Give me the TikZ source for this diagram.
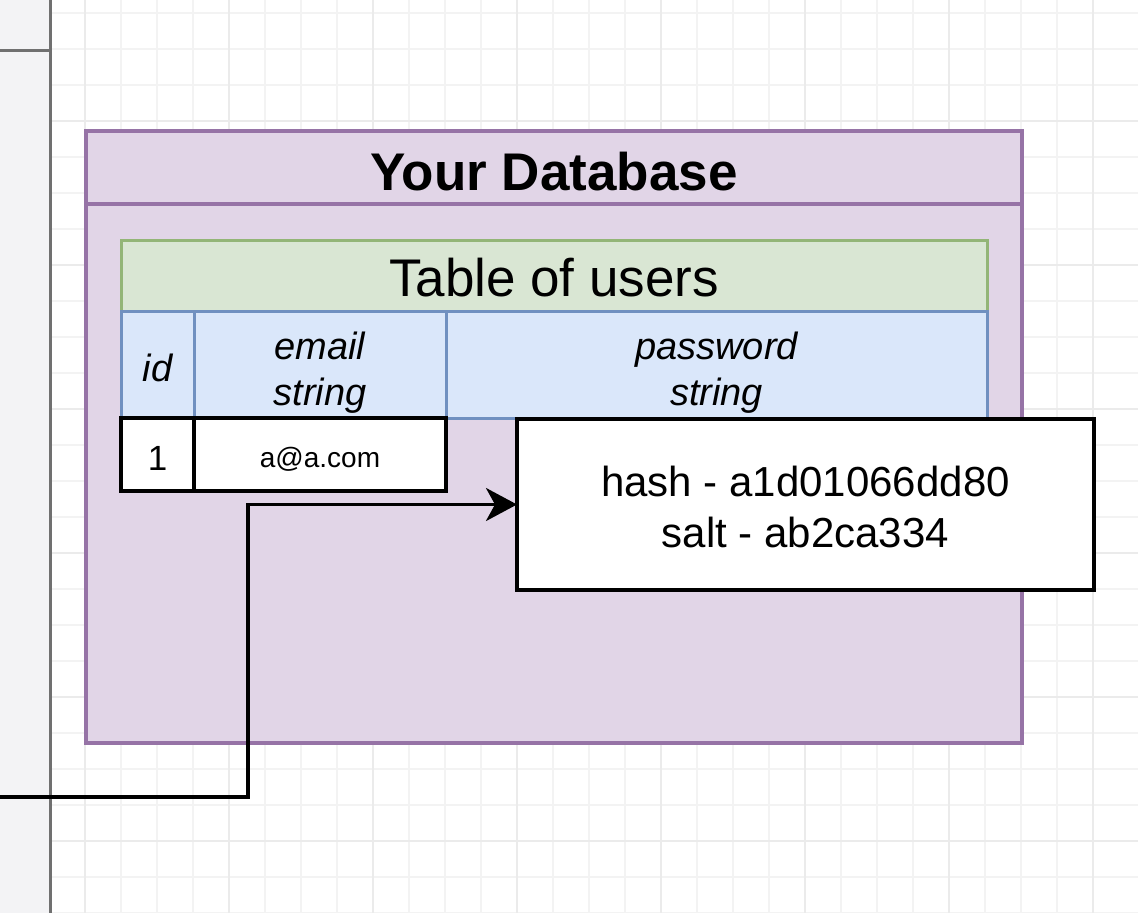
\documentclass[tikz,border=0pt]{standalone}
\usepackage{fontspec}
\setmainfont{Liberation Sans}
\usetikzlibrary{arrows.meta}
\definecolor{purfill}{HTML}{E1D5E7}
\definecolor{purline}{HTML}{9673A6}
\definecolor{grnfill}{HTML}{D9E6D3}
\definecolor{grnline}{HTML}{93B577}
\definecolor{blufill}{HTML}{DAE7FA}
\definecolor{bluline}{HTML}{7090C0}
\definecolor{gridminor}{HTML}{F3F3F3}
\definecolor{gridmajor}{HTML}{EBEBEB}
\definecolor{panelfill}{HTML}{F3F3F5}
\definecolor{panelline}{HTML}{707070}
\tikzset{
  cell/.style={rectangle, inner sep=0pt, outer sep=0pt, align=center},
  purbox/.style={cell, draw=purline, fill=purfill, line width=3.5pt},
  grnbox/.style={cell, draw=grnline, fill=grnfill, line width=3pt},
  blubox/.style={cell, draw=bluline, fill=blufill, line width=3pt},
  blkbox/.style={cell, draw=black, fill=white, line width=3.5pt},
  lbl/.style={inner sep=0pt, align=center},
  conn/.style={line width=3.5pt, -{Stealth[length=31pt,width=33pt,inset=9pt]}},
}
\begin{document}
\begin{tikzpicture}[x=1pt,y=-1pt]
\useasboundingbox (0,0) rectangle (1138,913);
% grid
\foreach \gx in {58,94,...,1138} \draw[gridminor,line width=1.2pt] (\gx-45,0) -- (\gx-45,913);
\foreach \gy in {13,49,...,913} \draw[gridminor,line width=1.2pt] (50,\gy) -- (1138,\gy);
\foreach \gx in {85,229,...,1138} \draw[gridmajor,line width=1.4pt] (\gx,0) -- (\gx,913);
\foreach \gy in {121,265,...,913} \draw[gridmajor,line width=1.4pt] (50,\gy) -- (1138,\gy);
% left panel
\fill[panelfill] (0,0) rectangle (50,913);
\draw[panelline,line width=3pt] (50,0) -- (50,913);
\draw[panelline,line width=3pt] (0,50) -- (50,50);
% database container
\node[purbox, minimum width=936pt, minimum height=539pt] (body) at (554,473.5) {};
\node[purbox, minimum width=936pt, minimum height=73pt] (title) at (554,167.5) {};
\node[lbl, font=\bfseries\fontsize{53}{60}\selectfont] (titletext) at ([yshift=-4pt]title.center) {Your Database};
% table
\node[grnbox, minimum width=866pt, minimum height=71pt] (tbl) at (554,275.5) {};
\node[lbl, font=\fontsize{53}{60}\selectfont] (tbltext) at ([yshift=-2pt]tbl.center) {Table of users};
\node[blubox, minimum width=73pt, minimum height=107pt] (hid) at (157.5,364.5) {};
\node[blubox, minimum width=252pt, minimum height=107pt] (hemail) at (320,364.5) {};
\node[blubox, minimum width=541pt, minimum height=107pt] (hpass) at (716.5,364.5) {};
\node[lbl, font=\itshape\fontsize{38}{46}\selectfont] (hidtext) at ([yshift=-3pt]hid.center) {id};
\node[lbl, font=\itshape\fontsize{38}{46}\selectfont] (hemailtext) at ([yshift=-8pt]hemail.center) {email\\string};
\node[lbl, font=\itshape\fontsize{38}{46}\selectfont] (hpasstext) at ([yshift=-8pt]hpass.center) {password\\string};
\node[blkbox, minimum width=73pt, minimum height=73pt] (cid) at (157.5,454.5) {};
\node[blkbox, minimum width=252pt, minimum height=73pt] (cemail) at (320,454.5) {};
\node[lbl, font=\fontsize{35}{42}\selectfont] (cidtext) at ([yshift=-4pt]cid.center) {1};
\node[lbl, font=\fontsize{28}{34}\selectfont] (cemailtext) at ([yshift=-5pt]cemail.center) {a@a.com};
% hash box
\node[blkbox, minimum width=577pt, minimum height=171pt] (hash) at (805.5,504.5) {};
\node[lbl, font=\fontsize{42}{51}\selectfont] (hashtext) at ([yshift=-2pt]hash.center) {hash - a1d01066dd80\\salt - ab2ca334};
% connector
\coordinate (start) at (0,797);
\coordinate (bend) at (248,797);
\draw[conn] (start) -- (bend) |- (hash.west);
\end{tikzpicture}
\end{document}
